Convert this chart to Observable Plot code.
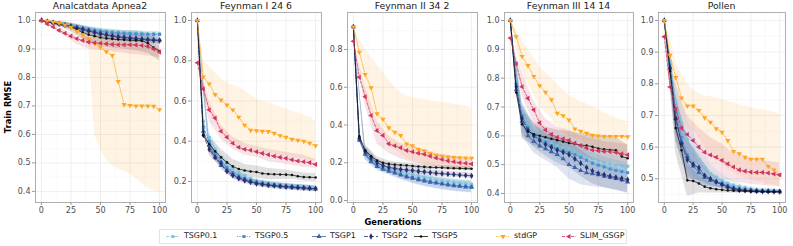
<!DOCTYPE html>
<html><head><meta charset="utf-8">
<script src="https://cdn.jsdelivr.net/npm/d3@7"></script>
<script src="https://cdn.jsdelivr.net/npm/@observablehq/plot@0.6"></script>
<style>
html,body{margin:0;padding:0;background:#fff;}
#root{position:relative;width:793px;height:246px;overflow:hidden;font-family:"DejaVu Sans",sans-serif;}
.panel{position:absolute;top:0;}
.ptitle{position:absolute;top:0;height:12px;line-height:12px;font-size:9.3px;color:#1a1a1a;text-align:center;white-space:nowrap;transform:translateX(-50%);}
.axtitle{position:absolute;font-weight:bold;font-size:8.3px;line-height:10px;color:#000;white-space:nowrap;}
#legend{position:absolute;left:159px;top:229px;width:468px;height:15px;border:1px solid #e3e3e3;box-sizing:border-box;}
.lk{position:absolute;top:0;}
.lt{position:absolute;top:0;font-size:7.9px;line-height:12px;color:#1a1a1a;white-space:nowrap;}
</style></head>
<body><div id="root"></div>
<script>
// ---------- categories / labels ----------
const seriesNames = ["TSGP0.1","TSGP0.5","TSGP1","TSGP2","TSGP5","stdGP","SLIM_GSGP"];
const seriesColors = ["#7cc3da","#4a8ecb","#3d62ad","#2b2e6c","#111111","#ffa51f","#cf365e"];
const seriesDash = ["3,1.5","1.2,1.2",null,"4,2",null,"1.2,1.2","3,1.5"];
const panelTitles = ["Analcatdata Apnea2","Feynman I 24 6","Feynman II 34 2","Feynman III 14 14","Pollen"];
const gens21 = [0,5,10,15,20,25,30,35,40,45,50,55,60,65,70,75,80,85,90,95,100];
const gens11 = [0,10,20,30,40,50,60,70,80,90,100];
const xTicks = [0,25,50,75,100];
const xMinor = [12.5,37.5,62.5,87.5];
const yTicksApnea = [0.4,0.5,0.6,0.7,0.8,0.9,1.0];
const yMinorApnea = [0.45,0.55,0.65,0.75,0.85,0.95];
const yTicksF1 = [0.2,0.4,0.6,0.8,1.0];
const yMinorF1 = [0.1,0.3,0.5,0.7,0.9];
const yTicksF2 = [0.0,0.2,0.4,0.6,0.8];
const yMinorF2 = [0.1,0.3,0.5,0.7,0.9];
const yTicksF3 = [0.4,0.5,0.6,0.7,0.8,0.9,1.0];
const yMinorF3 = [0.45,0.55,0.65,0.75,0.85,0.95];
const yTicksPollen = [0.5,0.6,0.7,0.8,0.9,1.0];
const yMinorPollen = [0.45,0.55,0.65,0.75,0.85,0.95];

// ---------- Analcatdata Apnea2 ----------
const apneaMeans = [
 [1,0.997,0.994,0.99,0.986,0.982,0.979,0.975,0.972,0.969,0.966,0.963,0.961,0.959,0.958,0.957,0.956,0.955,0.954,0.954,0.953],
 [1,0.997,0.993,0.989,0.985,0.981,0.977,0.973,0.969,0.965,0.962,0.96,0.958,0.956,0.955,0.954,0.953,0.952,0.951,0.951,0.951],
 [1,0.996,0.992,0.988,0.984,0.98,0.975,0.97,0.965,0.96,0.955,0.951,0.947,0.944,0.942,0.94,0.938,0.936,0.934,0.933,0.932],
 [1,0.996,0.992,0.988,0.984,0.979,0.974,0.969,0.963,0.958,0.953,0.949,0.945,0.942,0.94,0.938,0.936,0.934,0.932,0.93,0.929],
 [1,0.995,0.99,0.986,0.983,0.978,0.968,0.958,0.95,0.945,0.94,0.937,0.935,0.933,0.932,0.931,0.93,0.929,0.92,0.905,0.893],
 [1,0.997,0.994,0.99,0.984,0.976,0.962,0.95,0.935,0.92,0.906,0.89,0.877,0.786,0.705,0.702,0.7,0.7,0.7,0.699,0.687],
 [1,0.988,0.977,0.965,0.955,0.945,0.936,0.93,0.924,0.922,0.92,0.918,0.916,0.915,0.915,0.915,0.914,0.912,0.909,0.9,0.889]];
const apneaStdLo = [1,0.995,0.99,0.985,0.975,0.965,0.95,0.935,0.91,0.6,0.545,0.51,0.49,0.478,0.47,0.46,0.445,0.428,0.412,0.402,0.396];
const apneaStdHi = [1,1,1,0.998,0.995,0.99,0.985,0.978,0.97,0.96,0.95,0.945,0.94,0.935,0.93,0.925,0.92,0.915,0.91,0.905,0.9];
const apneaSlimLo = [1,0.975,0.945,0.915,0.9,0.895,0.89,0.885,0.88,0.875,0.87];
const apneaSlimHi = [1,0.985,0.965,0.945,0.94,0.937,0.935,0.932,0.93,0.925,0.91];
const apneaSpread = [
 [0,0.004,0.006,0.008,0.008,0.008,0.008,0.008,0.008,0.008,0.008],
 [0,0.004,0.006,0.008,0.009,0.009,0.009,0.009,0.009,0.009,0.009],
 [0,0.005,0.008,0.01,0.012,0.012,0.012,0.012,0.012,0.012,0.012],
 [0,0.005,0.008,0.01,0.012,0.013,0.013,0.013,0.013,0.013,0.013],
 [0,0.006,0.012,0.02,0.025,0.03,0.032,0.033,0.035,0.035,0.035]];

// ---------- Feynman I 24 6 ----------
const f1Means = [
 [1,0.5,0.42,0.36,0.32,0.29,0.265,0.245,0.23,0.215,0.205,0.198,0.192,0.188,0.185,0.182,0.18,0.177,0.174,0.171,0.168],
 [1,0.47,0.4,0.34,0.3,0.27,0.245,0.228,0.215,0.205,0.197,0.19,0.186,0.182,0.179,0.176,0.174,0.172,0.17,0.167,0.165],
 [1,0.45,0.38,0.32,0.28,0.255,0.235,0.22,0.21,0.2,0.193,0.188,0.184,0.18,0.177,0.174,0.172,0.17,0.168,0.165,0.163],
 [1,0.43,0.36,0.32,0.29,0.25,0.23,0.215,0.205,0.197,0.19,0.186,0.182,0.179,0.176,0.174,0.172,0.17,0.168,0.166,0.165],
 [1,0.43,0.385,0.35,0.32,0.295,0.275,0.262,0.255,0.25,0.247,0.24,0.237,0.236,0.235,0.234,0.232,0.226,0.222,0.221,0.22],
 [1,0.72,0.685,0.632,0.605,0.58,0.556,0.52,0.48,0.455,0.452,0.45,0.448,0.44,0.428,0.42,0.41,0.405,0.4,0.39,0.378],
 [0.79,0.66,0.556,0.515,0.45,0.42,0.39,0.37,0.36,0.355,0.348,0.34,0.333,0.326,0.32,0.315,0.308,0.302,0.298,0.294,0.285]];
const f1StdLo = [1,0.62,0.55,0.5,0.45,0.42,0.4,0.38,0.37,0.36,0.35,0.345,0.34,0.335,0.33,0.325,0.32,0.315,0.31,0.305,0.3];
const f1StdHi = [1,0.8,0.77,0.74,0.71,0.69,0.68,0.67,0.65,0.63,0.61,0.6,0.59,0.58,0.57,0.56,0.55,0.54,0.53,0.52,0.5];
const f1SlimLo = [0.79,0.5,0.41,0.36,0.33,0.32,0.3,0.29,0.28,0.27,0.265];
const f1SlimHi = [0.79,0.6,0.48,0.42,0.39,0.375,0.36,0.35,0.34,0.33,0.31];
const f1Spread = [
 [0,0.03,0.02,0.015,0.012,0.01,0.01,0.01,0.01,0.01,0.01],
 [0,0.03,0.02,0.015,0.012,0.012,0.012,0.012,0.012,0.012,0.012],
 [0,0.03,0.02,0.018,0.015,0.015,0.015,0.015,0.015,0.015,0.015],
 [0,0.03,0.02,0.018,0.015,0.015,0.015,0.015,0.015,0.015,0.015],
 [0,0.04,0.04,0.035,0.03,0.03,0.028,0.025,0.02,0.02,0.02]];

// ---------- Feynman II 34 2 ----------
const f2Means = [
 [0.92,0.33,0.25,0.215,0.19,0.175,0.165,0.158,0.15,0.143,0.135,0.128,0.122,0.116,0.11,0.105,0.1,0.096,0.092,0.089,0.086],
 [0.92,0.32,0.25,0.21,0.185,0.17,0.16,0.15,0.14,0.13,0.122,0.115,0.108,0.1,0.095,0.09,0.085,0.081,0.078,0.075,0.073],
 [0.92,0.32,0.245,0.205,0.18,0.165,0.155,0.145,0.135,0.125,0.118,0.11,0.103,0.097,0.092,0.087,0.082,0.078,0.075,0.072,0.07],
 [0.92,0.33,0.26,0.225,0.2,0.185,0.175,0.17,0.165,0.162,0.159,0.155,0.152,0.148,0.145,0.142,0.14,0.138,0.135,0.133,0.131],
 [0.92,0.34,0.265,0.235,0.212,0.2,0.194,0.19,0.188,0.186,0.183,0.18,0.178,0.176,0.175,0.174,0.172,0.171,0.17,0.169,0.168],
 [0.92,0.786,0.668,0.597,0.46,0.43,0.385,0.362,0.345,0.3,0.29,0.27,0.262,0.248,0.24,0.235,0.23,0.228,0.226,0.225,0.224],
 [0.844,0.653,0.55,0.45,0.37,0.345,0.3,0.29,0.28,0.265,0.258,0.25,0.245,0.235,0.225,0.217,0.21,0.205,0.2,0.197,0.194]];
const f2StdLo = [0.92,0.7,0.55,0.48,0.38,0.35,0.3,0.27,0.25,0.22,0.21,0.2,0.19,0.185,0.18,0.18,0.175,0.175,0.17,0.17,0.17];
const f2StdHi = [0.92,0.86,0.8,0.76,0.72,0.68,0.64,0.6,0.57,0.555,0.545,0.54,0.535,0.53,0.525,0.52,0.515,0.51,0.505,0.5,0.49];
const f2SlimLo = [0.844,0.5,0.3,0.25,0.22,0.2,0.19,0.18,0.17,0.165,0.16];
const f2SlimHi = [0.844,0.6,0.42,0.34,0.3,0.29,0.27,0.25,0.24,0.23,0.22];
const f2Spread = [
 [0,0.03,0.02,0.02,0.02,0.022,0.022,0.022,0.022,0.022,0.022],
 [0,0.03,0.02,0.02,0.025,0.028,0.03,0.03,0.03,0.03,0.03],
 [0,0.03,0.02,0.02,0.025,0.028,0.03,0.03,0.03,0.03,0.03],
 [0,0.03,0.02,0.015,0.015,0.015,0.015,0.015,0.015,0.015,0.015],
 [0,0.03,0.02,0.015,0.012,0.012,0.012,0.012,0.012,0.012,0.012]];

// ---------- Feynman III 14 14 ----------
const f3Means = [
 [1,0.78,0.68,0.635,0.61,0.595,0.585,0.575,0.565,0.56,0.554,0.545,0.535,0.527,0.52,0.513,0.508,0.503,0.499,0.496,0.494],
 [1,0.78,0.67,0.63,0.605,0.59,0.578,0.566,0.555,0.548,0.543,0.535,0.525,0.515,0.505,0.498,0.492,0.485,0.48,0.476,0.472],
 [1,0.76,0.65,0.6,0.58,0.565,0.555,0.545,0.535,0.52,0.5,0.49,0.48,0.472,0.468,0.465,0.46,0.456,0.452,0.447,0.44],
 [1,0.77,0.66,0.62,0.6,0.585,0.57,0.56,0.55,0.543,0.535,0.52,0.505,0.49,0.478,0.47,0.465,0.46,0.456,0.452,0.448],
 [1,0.75,0.64,0.615,0.605,0.6,0.595,0.59,0.585,0.58,0.575,0.572,0.568,0.566,0.562,0.556,0.553,0.551,0.55,0.528,0.522],
 [1,0.944,0.875,0.844,0.806,0.774,0.751,0.725,0.678,0.67,0.655,0.624,0.616,0.609,0.601,0.599,0.598,0.598,0.598,0.598,0.597],
 [0.939,0.85,0.77,0.73,0.69,0.645,0.62,0.605,0.595,0.59,0.584,0.575,0.566,0.558,0.551,0.548,0.546,0.545,0.542,0.538,0.534]];
const f3StdLo = [1,0.9,0.82,0.78,0.74,0.7,0.68,0.66,0.63,0.61,0.6,0.59,0.58,0.57,0.56,0.56,0.55,0.55,0.54,0.54,0.53];
const f3StdHi = [1,0.97,0.93,0.9,0.87,0.84,0.82,0.8,0.78,0.76,0.74,0.73,0.72,0.71,0.7,0.69,0.68,0.67,0.66,0.655,0.65];
const f3SlimLo = [0.939,0.74,0.64,0.58,0.56,0.55,0.53,0.52,0.51,0.5,0.49];
const f3SlimHi = [0.939,0.82,0.72,0.66,0.63,0.62,0.6,0.59,0.58,0.575,0.57];
const f3Spread = [
 [0,0.04,0.03,0.03,0.03,0.03,0.03,0.03,0.03,0.03,0.03],
 [0,0.04,0.03,0.03,0.035,0.035,0.035,0.035,0.035,0.035,0.035],
 [0,0.05,0.04,0.04,0.045,0.05,0.05,0.045,0.04,0.04,0.04],
 [0,0.05,0.04,0.04,0.045,0.045,0.045,0.045,0.045,0.045,0.045],
 [0,0.05,0.04,0.035,0.035,0.04,0.04,0.045,0.045,0.045,0.045]];

// ---------- Pollen ----------
const pollenMeans = [
 [1,0.87,0.74,0.675,0.625,0.59,0.558,0.535,0.515,0.505,0.495,0.486,0.48,0.476,0.472,0.468,0.466,0.465,0.464,0.463,0.462],
 [1,0.86,0.71,0.63,0.575,0.55,0.53,0.51,0.5,0.492,0.485,0.478,0.472,0.468,0.465,0.463,0.462,0.461,0.46,0.46,0.46],
 [1,0.85,0.69,0.615,0.57,0.54,0.52,0.505,0.495,0.49,0.483,0.476,0.47,0.466,0.464,0.462,0.461,0.46,0.46,0.46,0.459],
 [1,0.85,0.69,0.61,0.56,0.545,0.535,0.51,0.5,0.49,0.482,0.473,0.468,0.465,0.463,0.462,0.461,0.46,0.46,0.459,0.459],
 [1,0.84,0.66,0.59,0.495,0.493,0.485,0.475,0.47,0.467,0.465,0.463,0.462,0.461,0.461,0.46,0.46,0.46,0.459,0.459,0.459],
 [1,0.89,0.82,0.755,0.73,0.73,0.716,0.693,0.679,0.658,0.647,0.621,0.586,0.579,0.568,0.562,0.562,0.562,0.539,0.528,0.513],
 [0.949,0.79,0.72,0.66,0.64,0.621,0.6,0.584,0.575,0.568,0.558,0.547,0.537,0.528,0.524,0.521,0.52,0.52,0.518,0.515,0.512]];
const pollenStdLo = [1,0.82,0.76,0.68,0.66,0.65,0.63,0.6,0.58,0.56,0.55,0.53,0.52,0.51,0.5,0.5,0.49,0.49,0.48,0.48,0.475];
const pollenStdHi = [1,0.95,0.87,0.83,0.8,0.78,0.77,0.76,0.76,0.755,0.75,0.745,0.74,0.735,0.73,0.725,0.72,0.72,0.715,0.71,0.705];
const pollenSlimLo = [0.949,0.64,0.57,0.54,0.51,0.5,0.49,0.485,0.48,0.478,0.475];
const pollenSlimHi = [0.949,0.8,0.7,0.66,0.63,0.61,0.58,0.565,0.56,0.555,0.55];
const pollenSpread = [
 [0,0.06,0.06,0.05,0.03,0.02,0.012,0.008,0.006,0.005,0.005],
 [0,0.06,0.05,0.04,0.025,0.015,0.01,0.008,0.006,0.005,0.005],
 [0,0.07,0.06,0.04,0.02,0.012,0.008,0.006,0.005,0.005,0.005],
 [0,0.07,0.06,0.04,0.02,0.012,0.008,0.006,0.005,0.005,0.005],
 [0,0.08,0.05,0.03,0.015,0.01,0.008,0.006,0.005,0.005,0.005]];

// ---------- symbols ----------
const symTriDown = {draw(ctx, size){const a=Math.sqrt(4*size/Math.sqrt(3)), h=a*Math.sqrt(3)/2;
  ctx.moveTo(-a/2,-h/3); ctx.lineTo(a/2,-h/3); ctx.lineTo(0,2*h/3); ctx.closePath();}};
const symTriLeft = {draw(ctx, size){const a=Math.sqrt(4*size/Math.sqrt(3)), h=a*Math.sqrt(3)/2;
  ctx.moveTo(-2*h/3,0); ctx.lineTo(h/3,-a/2); ctx.lineTo(h/3,a/2); ctx.closePath();}};
const seriesSymbols = [d3.symbolCircle, d3.symbolSquare, d3.symbolTriangle, d3.symbolDiamond, d3.symbolCircle, symTriDown, symTriLeft];
const seriesR = [1.8,1.7,1.9,1.9,1.3,1.9,1.9];

const panels = [
 {title:panelTitles[0], left:35, right:165, yDomain:[0.361,1.028], ticks:yTicksApnea, minor:yMinorApnea,
  means:apneaMeans, stdLo:apneaStdLo, stdHi:apneaStdHi, slimLo:apneaSlimLo, slimHi:apneaSlimHi, spread:apneaSpread},
 {title:panelTitles[1], left:191, right:321, yDomain:[0.0957,1.0398], ticks:yTicksF1, minor:yMinorF1,
  means:f1Means, stdLo:f1StdLo, stdHi:f1StdHi, slimLo:f1SlimLo, slimHi:f1SlimHi, spread:f1Spread},
 {title:panelTitles[2], left:347, right:477, yDomain:[-0.0106,0.996], ticks:yTicksF2, minor:yMinorF2,
  means:f2Means, stdLo:f2StdLo, stdHi:f2StdHi, slimLo:f2SlimLo, slimHi:f2SlimHi, spread:f2Spread},
 {title:panelTitles[3], left:504, right:633, yDomain:[0.3687,1.0277], ticks:yTicksF3, minor:yMinorF3,
  means:f3Means, stdLo:f3StdLo, stdHi:f3StdHi, slimLo:f3SlimLo, slimHi:f3SlimHi, spread:f3Spread},
 {title:panelTitles[4], left:658, right:785, yDomain:[0.425,1.0253], ticks:yTicksPollen, minor:yMinorPollen,
  means:pollenMeans, stdLo:pollenStdLo, stdHi:pollenStdHi, slimLo:pollenSlimLo, slimHi:pollenSlimHi, spread:pollenSpread}
];

const root = document.getElementById("root");
const ML = 30, MR = 6;

panels.forEach(p => {
  const W = p.right - p.left;
  const lines = [];
  p.means.forEach((arr, s) => arr.forEach((v, i) => lines.push({s, g: gens21[i], v})));
  const stdBand = gens21.map((g, i) => ({g, lo: p.stdLo[i], hi: p.stdHi[i]}));
  const slimBand = gens11.map((g, i) => ({g, lo: p.slimLo[i], hi: p.slimHi[i]}));
  const marks = [
    Plot.gridY(p.minor, {stroke:"#f2f2f2", strokeOpacity:1, strokeWidth:0.5}),
    Plot.gridX(xMinor, {stroke:"#f2f2f2", strokeOpacity:1, strokeWidth:0.5}),
    Plot.gridY(p.ticks, {stroke:"#e8e8e8", strokeOpacity:1, strokeWidth:0.7}),
    Plot.gridX(xTicks, {stroke:"#e8e8e8", strokeOpacity:1, strokeWidth:0.7}),
    Plot.areaY(stdBand, {x:"g", y1:"lo", y2:"hi", fill:seriesColors[5], fillOpacity:0.12}),
    Plot.areaY(slimBand, {x:"g", y1:"lo", y2:"hi", fill:seriesColors[6], fillOpacity:0.14})
  ];
  for (let s = 4; s >= 0; s--) {
    const band = gens11.map((g, i) => ({g, lo: p.means[s][2*i] - p.spread[s][i], hi: p.means[s][2*i] + p.spread[s][i]}));
    marks.push(Plot.areaY(band, {x:"g", y1:"lo", y2:"hi", fill:seriesColors[s], fillOpacity: s===4 ? 0.13 : 0.17}));
  }
  for (let s = 0; s < 7; s++) {
    const d = lines.filter(r => r.s === s);
    marks.push(Plot.line(d, {x:"g", y:"v", stroke:seriesColors[s], strokeWidth:0.75, strokeDasharray:seriesDash[s] || undefined}));
    marks.push(Plot.dot(d, {x:"g", y:"v", fill:seriesColors[s], symbol:seriesSymbols[s], r:seriesR[s], stroke:"none"}));
  }
  marks.push(Plot.frame({stroke:"#a6a6a6", strokeWidth:0.9}));
  marks.push(Plot.axisY(p.ticks, {tickSize:3, tickPadding:2, tickFormat:d => d.toFixed(1), stroke:"#9a9a9a", fill:"#4d4d4d", label:null, fontSize:8}));
  marks.push(Plot.axisX(xTicks, {tickSize:3, tickPadding:2, tickFormat:d => String(d), stroke:"#9a9a9a", fill:"#4d4d4d", label:null, fontSize:8}));
  const chart = Plot.plot({
    width: W + ML + MR, height: 222,
    marginLeft: ML, marginRight: MR, marginTop: 12, marginBottom: 20,
    x: {domain: [-5, 105]}, y: {domain: p.yDomain},
    style: {fontFamily: "DejaVu Sans", fontSize: "8px", color: "#4d4d4d", background: "transparent", overflow: "visible"},
    marks
  });
  chart.classList.add("panel");
  chart.style.left = (p.left - ML) + "px";
  root.appendChild(chart);
  const t = document.createElement("div");
  t.className = "ptitle";
  t.textContent = p.title;
  t.style.left = ((p.left + p.right) / 2) + "px";
  root.appendChild(t);
});

// axis titles
const yt = document.createElement("div");
yt.className = "axtitle"; yt.textContent = "Train RMSE";
yt.style.left = "8px"; yt.style.top = "107px";
yt.style.transform = "translate(-50%,-50%) rotate(-90deg)";
root.appendChild(yt);
const xt = document.createElement("div");
xt.className = "axtitle"; xt.textContent = "Generations";
xt.style.left = "393px"; xt.style.top = "216.5px"; xt.style.transform = "translateX(-50%)";
root.appendChild(xt);

// legend
const legendTextX = [183, 254, 329, 381, 431, 513, 579];
const lg = document.createElement("div");
lg.id = "legend";
root.appendChild(lg);
seriesNames.forEach((name, s) => {
  const tx = legendTextX[s] - 159;
  const svg = d3.create("svg").attr("class", "lk").attr("width", 16).attr("height", 13)
    .style("left", (tx - 19) + "px");
  svg.append("line").attr("x1", 1).attr("x2", 15).attr("y1", 6.5).attr("y2", 6.5)
    .attr("stroke", seriesColors[s]).attr("stroke-width", 0.8)
    .attr("stroke-dasharray", seriesDash[s] || null);
  const size = Math.PI * seriesR[s] * seriesR[s];
  svg.append("path").attr("d", d3.symbol().type(seriesSymbols[s]).size(size)())
    .attr("transform", "translate(8,6.5)").attr("fill", seriesColors[s]);
  lg.appendChild(svg.node());
  const lt = document.createElement("div");
  lt.className = "lt"; lt.textContent = name; lt.style.left = tx + "px";
  lg.appendChild(lt);
});
</script>
</body></html>
